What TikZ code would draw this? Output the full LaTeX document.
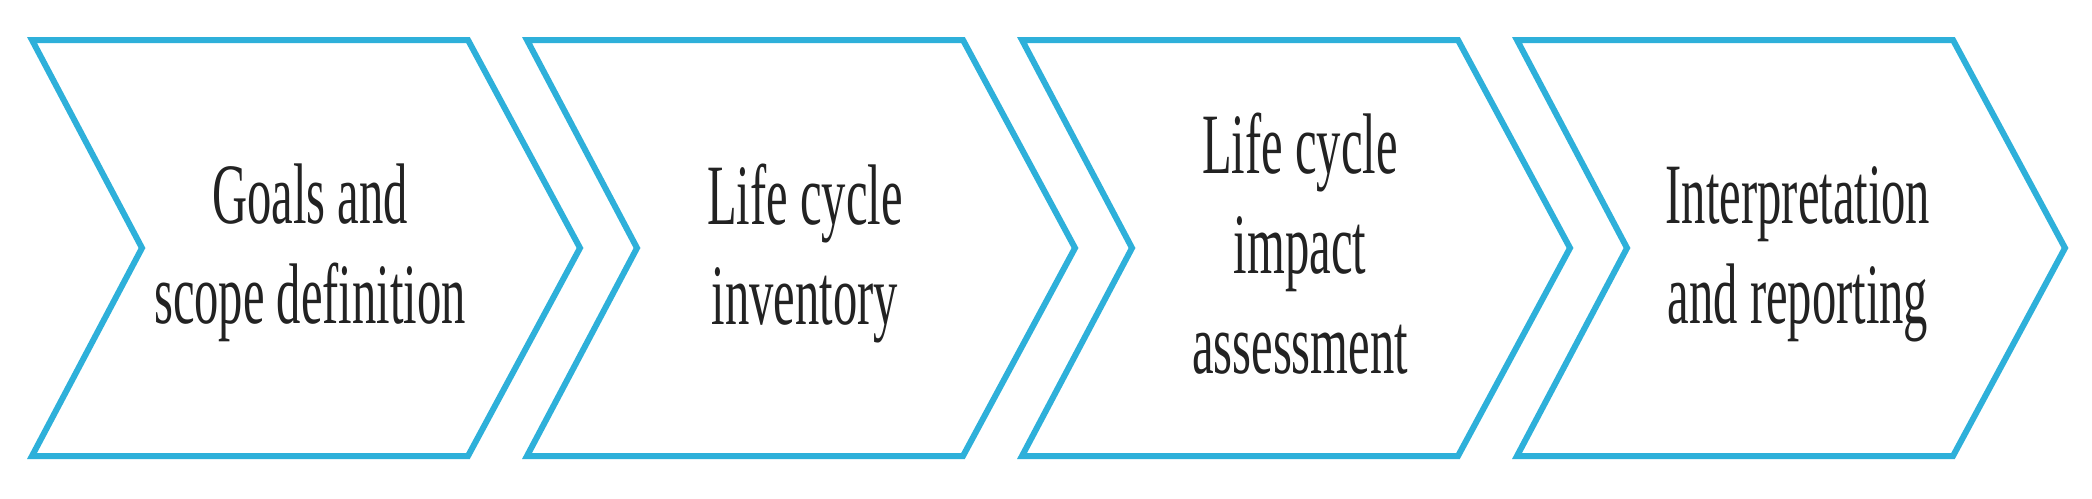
\documentclass[tikz,border=0pt]{standalone}
\usepackage{fontspec}
\setmainfont{Liberation Serif}
\usepackage{graphicx}
\definecolor{chev}{RGB}{46,176,218}
\definecolor{ink}{RGB}{34,34,34}
\tikzset{
  chevron/.style={draw=chev, line width=6pt, line join=miter},
  steptext/.style={align=center, font=\fontsize{86}{100}\selectfont, text=ink, inner sep=0pt}
}
\newcommand\sqz[1]{\scalebox{0.565}[1]{#1}}
\begin{document}
\begin{tikzpicture}[x=1pt,y=-1pt]
\useasboundingbox (0,0) rectangle (2092,498);
\fill[white] (0,0) rectangle (2092,498);
\foreach \L in {32,527,1022,1517} {
  \draw[chevron] (\L,40) -- ++(436,0) -- ++(112,208) -- ++(-112,208) -- ++(-436,0) -- ++(110,-208) -- cycle;
}
\node[steptext] (goals) at (310,253) {\sqz{Goals and}\\\sqz{scope definition}};
\node[steptext] (inventory) at (805,253) {\sqz{Life cycle}\\\sqz{inventory}};
\node[steptext] (impact) at (1300,243.5) {\sqz{Life cycle}\\\sqz{impact}\\\sqz{assessment}};
\node[steptext] (interp) at (1798,254) {\sqz{Interpretation}\\\sqz{and reporting}};
\end{tikzpicture}
\end{document}
